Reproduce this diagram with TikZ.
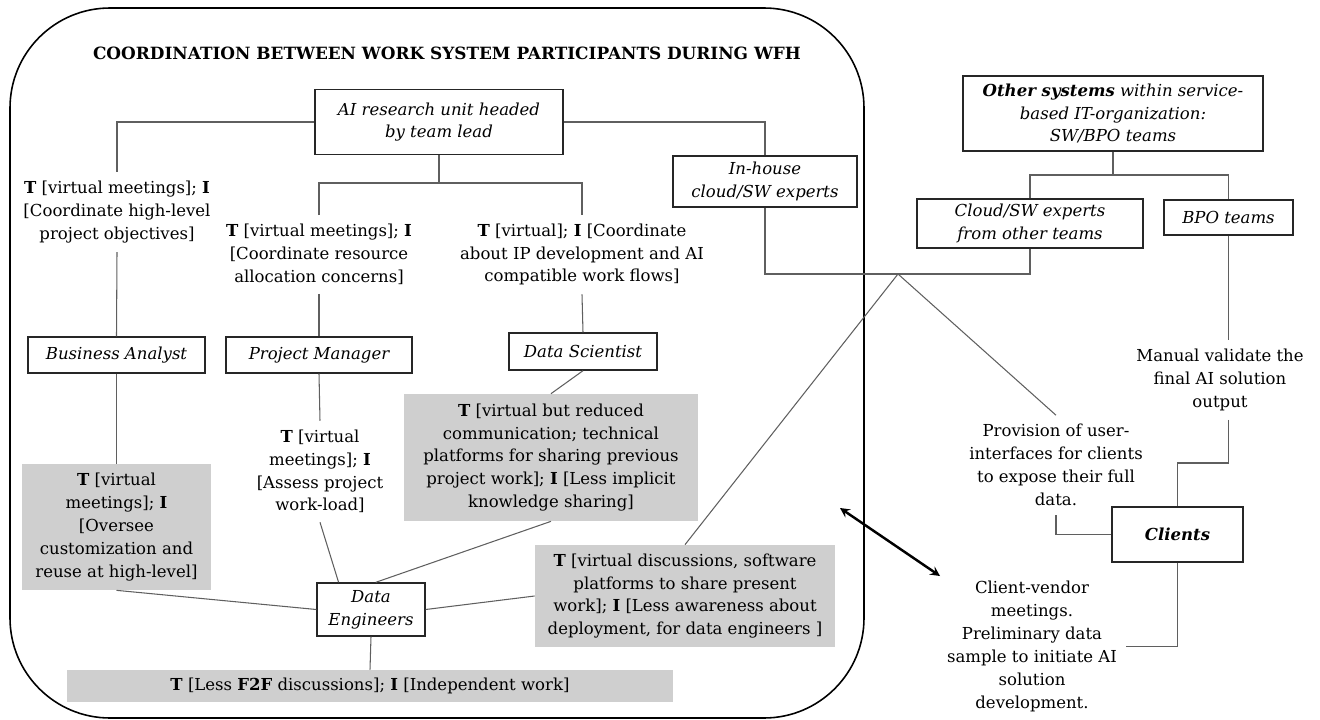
\documentclass[tikz,border=0pt]{standalone}
\usepackage{fontspec}
\setmainfont{DejaVu Serif}
\usepackage{xcolor}
\usepackage{tikz}
\usetikzlibrary{arrows}
\usetikzlibrary{calc}

\definecolor{boxgray}{RGB}{207,207,207}
\definecolor{linegray}{RGB}{95,95,95}

\begin{document}
\begin{tikzpicture}[
    x=0.02cm, y=-0.02cm,
    every node/.style={font=\fontsize{9.4}{13}\selectfont},
    box/.style={draw=black!85, line width=0.8pt, align=center, inner sep=1pt,
      font=\fontsize{9.4}{13}\selectfont\itshape},
    greybox/.style={fill=boxgray, align=center, inner sep=1pt},
    lbl/.style={align=center, inner sep=5pt},
    link/.style={draw=linegray, line width=0.6pt}]

    \useasboundingbox (0,0) rectangle (1320,720);

    \draw [line width=0.9pt, rounded corners=2cm] (10,8) rectangle (864,718);

    \node [font=\fontsize{9.6}{11}\selectfont\bfseries] (title) at (447,53)
    {COORDINATION BETWEEN WORK SYSTEM PARTICIPANTS DURING WFH};

    \node [box, minimum width=4.96cm, minimum height=1.3cm] (lead) at (439,122)
    {AI research unit headed\\by team lead};
    \node [box, minimum width=3.68cm, minimum height=1.02cm] (inhouse) at (765,181.5)
    {In-house\\cloud/SW experts};
    \node [box, minimum width=3.54cm, minimum height=0.72cm] (ba) at (116.5,355)
    {Business Analyst};
    \node [box, minimum width=3.72cm, minimum height=0.72cm] (pm) at (319,355)
    {Project Manager};
    \node [box, minimum width=2.96cm, minimum height=0.74cm] (ds) at (583,351.5)
    {Data Scientist};
    \node [box, minimum width=2.16cm, minimum height=1.06cm] (de) at (371,609.5)
    {Data\\Engineers};

    \node [lbl] (lBA) at (117,212)
    {\textbf{T} [virtual meetings]; \textbf{I}\\{}[Coordinate high-level\\project objectives]};
    \node [lbl] (lPM) at (319,254.5)
    {\textbf{T} [virtual meetings]; \textbf{I}\\{}[Coordinate resource\\allocation concerns]};
    \node [lbl] (lDS) at (582,254.5)
    {\textbf{T} [virtual]; \textbf{I} [Coordinate\\about IP development and AI\\compatible work flows]};
    \node [lbl] (lPM2) at (320,471.5)
    {\textbf{T} [virtual\\meetings]; \textbf{I}\\{}[Assess project\\work-load]};

    \node [greybox, minimum width=3.78cm, minimum height=2.52cm] (gBA) at (116.5,527)
    {\textbf{T} [virtual\\meetings]; \textbf{I}\\{}[Oversee\\customization and\\reuse at high-level]};
    \node [greybox, minimum width=5.88cm, minimum height=2.54cm] (gDS) at (551,457.5)
    {\textbf{T} [virtual but reduced\\communication; technical\\platforms for sharing previous\\project work]; \textbf{I} [Less implicit\\knowledge sharing]};
    \node [greybox, minimum width=6cm, minimum height=2.04cm] (gDE) at (685,596)
    {\textbf{T} [virtual discussions, software\\platforms to share present\\work]; \textbf{I} [Less awareness about\\deployment, for data engineers ]};
    \node [greybox, minimum width=12.12cm, minimum height=0.64cm] (gBot) at (370,686)
    {\textbf{T} [Less \textbf{F2F} discussions]; \textbf{I} [Independent work]};

    \node [box, minimum width=6cm, minimum height=1.5cm] (other) at (1113,113.5)
    {\textbf{Other systems} within service-\\based IT-organization:\\SW/BPO teams};
    \node [box, minimum width=4.52cm, minimum height=0.98cm] (cloud) at (1030,223.5)
    {Cloud/SW experts\\from other teams};
    \node [box, minimum width=2.58cm, minimum height=0.7cm] (bpo) at (1228.5,217.5)
    {BPO teams};
    \node [box, minimum width=2.62cm, minimum height=1.1cm, font=\fontsize{9.4}{13}\selectfont\bfseries\itshape]
    (clients) at (1177.5,534.5) {Clients};

    \node [lbl] (manual) at (1220,380)
    {Manual validate the\\final AI solution\\output};
    \node [lbl] (prov) at (1056,465)
    {Provision of user-\\interfaces for clients\\to expose their full\\data.};
    \node [lbl] (vendor) at (1032,646.5)
    {Client-vendor\\meetings.\\Preliminary data\\sample to initiate AI\\solution\\development.};

    \coordinate (fork) at (439,183);
    \coordinate (fork2) at (1113,175);
    \coordinate (apex) at (898,274);
    \coordinate (bend) at (1177.5,463);
    \coordinate (arrA) at (840,508);
    \coordinate (arrB) at (940,576);

    \draw [link] (lead.west) -| (lBA.north);
    \draw [link] (lead.south) -- (fork);
    \draw [link] (lPM.north) |- (fork) -| (lDS.north);
    \draw [link] (lead.east) -| (inhouse.north);
    \draw [link] (lBA.south) -- (ba.north);
    \draw [link] (lPM.south) -- (pm.north);
    \draw [link] (lDS.south) -- (ds.north);
    \draw [link] (ba.south) -- (gBA.north);
    \draw [link] (pm.south) -- (lPM2.north);
    \draw [link] (ds.south) -- (gDS.north);
    \draw [link] (gBA.south) -- (de.west);
    \draw [link] (lPM2.south) -- (de.140);
    \draw [link] (gDS.south) -- (de.80);
    \draw [link] (de.east) -- (gDE.west);
    \draw [link] (de.south) -- (gBot.north);

    \draw [link] (inhouse.south) |- (apex) -| (cloud.south);
    \draw [link] (apex) -- (gDE.north);
    \draw [link] (apex) -- (prov.north);
    \draw [link] (other.south) -- (fork2);
    \draw [link] (cloud.north) |- (fork2) -| (bpo.north);
    \draw [link] (bpo.south) -- (bpo.south |- manual.north);
    \draw [link] (bpo.south |- manual.south) |- (bend) -- (clients.north);
    \draw [link] (clients.west) -| (prov.south);
    \draw [link] (clients.south) |- (vendor.east);

    \draw [<->, >=stealth, line width=1.4pt] (arrA) -- (arrB);

  \end{tikzpicture}
\end{document}
